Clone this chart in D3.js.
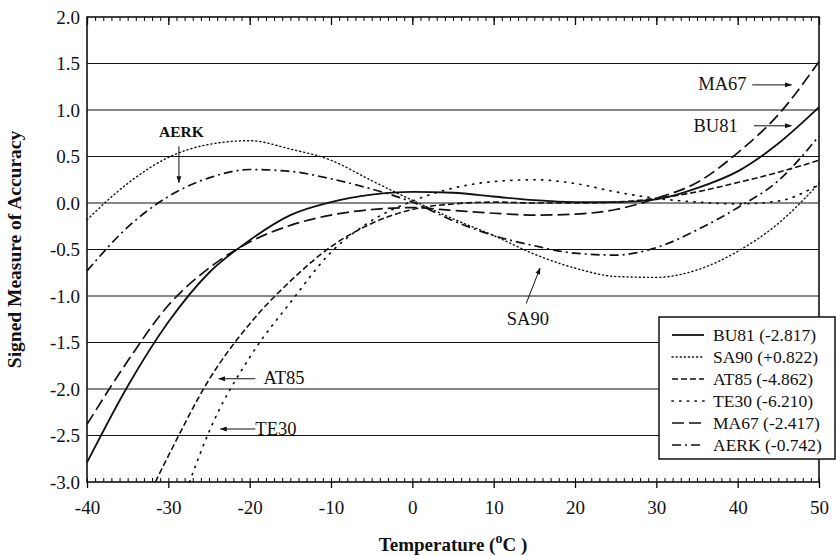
<!DOCTYPE html>
<html>
<head>
<meta charset="utf-8">
<script src="https://cdn.jsdelivr.net/npm/d3@7"></script>
<style>
  body { margin: 0; background: #fff; }
  #chart text { font-family: "Liberation Serif", "Times New Roman", serif; fill: #111; }
</style>
</head>
<body>
<div id="chart"></div>
<script>
// values (temperature in deg C, signed measure of accuracy)
const tempC = [-40, -35, -30, -25, -20, -15, -10, -5, 0, 5, 10, 15, 20, 25, 30, 35, 40, 45, 50];
const bu81 = [-2.79, -1.97, -1.28, -0.75, -0.40, -0.13, 0.01, 0.09, 0.12, 0.11, 0.07, 0.03, 0.01, 0.01, 0.04, 0.16, 0.34, 0.64, 1.03];
const sa90 = [-0.18, 0.21, 0.49, 0.63, 0.67, 0.58, 0.46, 0.24, 0.03, -0.17, -0.35, -0.55, -0.70, -0.79, -0.80, -0.72, -0.52, -0.22, 0.21];
const ma67 = [-2.38, -1.70, -1.10, -0.70, -0.42, -0.24, -0.13, -0.07, -0.05, -0.08, -0.11, -0.13, -0.12, -0.07, 0.05, 0.22, 0.54, 0.95, 1.52];
const aerk = [-0.73, -0.26, 0.07, 0.27, 0.36, 0.34, 0.26, 0.15, 0.01, -0.19, -0.35, -0.46, -0.54, -0.56, -0.48, -0.29, -0.05, 0.24, 0.72];
// these two leave the bottom of the frame, so they start later
const at85Temp = [-31.6, -30, -25, -20, -15, -10, -5, 0, 5, 10, 15, 20, 25, 30, 35, 40, 45, 50];
const at85 = [-3.0, -2.72, -1.90, -1.30, -0.84, -0.47, -0.22, -0.07, -0.01, 0.01, 0.0, 0.0, 0.01, 0.05, 0.12, 0.22, 0.33, 0.46];
const te30Temp = [-27.4, -25, -20, -15, -10, -5, 0, 5, 10, 15, 20, 25, 30, 35, 40, 45, 50];
const te30 = [-3.0, -2.46, -1.66, -1.07, -0.53, -0.19, 0.02, 0.16, 0.23, 0.25, 0.21, 0.12, 0.05, 0.01, -0.01, 0.02, 0.20];

const seriesNames = ['BU81', 'SA90', 'AT85', 'TE30', 'MA67', 'AERK'];
const legendLabels = ['BU81 (-2.817)', 'SA90 (+0.822)', 'AT85 (-4.862)', 'TE30 (-6.210)', 'MA67 (-2.417)', 'AERK (-0.742)'];
const xTicks = [-40, -30, -20, -10, 0, 10, 20, 30, 40, 50];
const yTicks = [-3.0, -2.5, -2.0, -1.5, -1.0, -0.5, 0.0, 0.5, 1.0, 1.5, 2.0];

// callouts: label, text anchor point, arrow from -> to (data units)
const callouts = [
  {text: 'AERK', at: [-28.4, 0.77], anchor: 'middle', bold: true, size: 15.5, from: [-28.7, 0.61], to: [-28.7, 0.22]},
  {text: 'MA67', at: [41.1, 1.28], anchor: 'end', from: [41.8, 1.27], to: [46.6, 1.27]},
  {text: 'BU81', at: [40.0, 0.83], anchor: 'end', from: [42.0, 0.83], to: [46.6, 0.83]},
  {text: 'SA90', at: [14.2, -1.24], anchor: 'middle', from: [14.0, -1.08], to: [15.7, -0.70]},
  {text: 'AT85', at: [-18.3, -1.88], anchor: 'start', from: [-19.3, -1.89], to: [-23.8, -1.89]},
  {text: 'TE30', at: [-19.3, -2.42], anchor: 'start', from: [-19.3, -2.43], to: [-23.6, -2.43]}
];

const width = 836;
const height = 556;
const margin = {top: 17, right: 17, bottom: 74, left: 87};
const serif = '"Liberation Serif", "Times New Roman", serif';

const styles = {
  BU81: {dash: null, w: 1.8},
  SA90: {dash: '1.1,3', w: 1.4, cap: 'round'},
  AT85: {dash: '6,3', w: 1.6},
  TE30: {dash: '1.2,6.5', w: 1.7, cap: 'round'},
  MA67: {dash: '12,5', w: 1.7},
  AERK: {dash: '9,4,2,4', w: 1.7}
};

const fmt = d => d3.format('.1f')(d).replace('\u2212', '-');

function main() {
  const svg = d3.select('#chart')
    .append('svg')
    .attr('width', width)
    .attr('height', height)
    .attr('viewBox', `0,0,${width},${height}`)
    .attr('font-family', serif);

  const x = d3.scaleLinear().domain([-40, 50]).range([margin.left, width - margin.right]);
  const y = d3.scaleLinear().domain([-3, 2]).range([height - margin.bottom, margin.top]);

  const series = [
    {name: 'BU81', t: tempC, v: bu81},
    {name: 'SA90', t: tempC, v: sa90},
    {name: 'AT85', t: at85Temp, v: at85},
    {name: 'TE30', t: te30Temp, v: te30},
    {name: 'MA67', t: tempC, v: ma67},
    {name: 'AERK', t: tempC, v: aerk}
  ];

  // horizontal grid
  svg.append('g')
    .selectAll('line')
    .data(yTicks.slice(1, -1))
    .join('line')
    .attr('x1', x(-40)).attr('x2', x(50))
    .attr('y1', d => y(d)).attr('y2', d => y(d))
    .attr('stroke', '#111').attr('stroke-width', 1.1);

  // bottom axis: major ticks out, minor ticks in
  const bottom = svg.append('g').attr('transform', `translate(0,${y(-3)})`);
  bottom.call(d3.axisBottom(x).tickValues(xTicks).tickSize(6).tickPadding(13)
      .tickFormat(d => String(d).replace('\u2212', '-')))
    .call(g => g.select('.domain').remove())
    .call(g => g.attr('font-family', serif))
    .call(g => g.selectAll('.tick line').attr('stroke-width', 1.3))
    .call(g => g.selectAll('.tick text').attr('font-size', 19).attr('fill', '#111'));
  bottom.append('g')
    .call(d3.axisTop(x).ticks(90).tickSize(4).tickFormat(''))
    .call(g => g.select('.domain').remove())
    .call(g => g.selectAll('.tick line').attr('stroke-width', 1));

  // top axis: all ticks point in
  const top = svg.append('g').attr('transform', `translate(0,${y(2)})`);
  top.call(d3.axisBottom(x).ticks(90).tickSize(4).tickFormat(''))
    .call(g => g.select('.domain').remove());
  top.append('g')
    .call(d3.axisBottom(x).tickValues(xTicks).tickSize(8).tickFormat(''))
    .call(g => g.select('.domain').remove())
    .call(g => g.selectAll('.tick line').attr('stroke-width', 1.3));

  svg.append('g')
    .attr('transform', `translate(${x(-40)},0)`)
    .call(d3.axisLeft(y).tickValues(yTicks).tickSize(0).tickPadding(7).tickFormat(fmt))
    .call(g => g.select('.domain').remove())
    .call(g => g.attr('font-family', serif))
    .call(g => g.selectAll('.tick text').attr('font-size', 19).attr('fill', '#111'));

  // frame
  svg.append('rect')
    .attr('x', x(-40)).attr('y', y(2))
    .attr('width', x(50) - x(-40)).attr('height', y(-3) - y(2))
    .attr('fill', 'none').attr('stroke', '#111').attr('stroke-width', 1.6);

  // curves
  const line = d3.line()
    .x(d => x(d[0]))
    .y(d => y(d[1]))
    .curve(d3.curveMonotoneX);

  svg.append('g')
    .selectAll('path')
    .data(series)
    .join('path')
    .attr('fill', 'none')
    .attr('stroke', '#111')
    .attr('stroke-width', d => styles[d.name].w)
    .attr('stroke-dasharray', d => styles[d.name].dash)
    .attr('stroke-linecap', d => styles[d.name].cap || 'butt')
    .attr('d', d => line(d.t.map((t, i) => [t, d.v[i]])));

  // callouts with arrows
  svg.append('defs').append('marker')
    .attr('id', 'head')
    .attr('viewBox', '0 0 10 10')
    .attr('refX', 9).attr('refY', 5)
    .attr('markerWidth', 7).attr('markerHeight', 7)
    .attr('markerUnits', 'userSpaceOnUse')
    .attr('orient', 'auto')
    .append('path')
    .attr('d', 'M0,1.5L10,5L0,8.5Z')
    .attr('fill', '#111');

  const notes = svg.append('g');
  notes.selectAll('line')
    .data(callouts)
    .join('line')
    .attr('x1', d => x(d.from[0])).attr('y1', d => y(d.from[1]))
    .attr('x2', d => x(d.to[0])).attr('y2', d => y(d.to[1]))
    .attr('stroke', '#111').attr('stroke-width', 1)
    .attr('marker-end', 'url(#head)');
  notes.selectAll('text')
    .data(callouts)
    .join('text')
    .attr('x', d => x(d.at[0])).attr('y', d => y(d.at[1]))
    .attr('dy', '0.35em')
    .attr('text-anchor', d => d.anchor)
    .attr('font-size', d => d.size || 18.5)
    .attr('font-weight', d => d.bold ? 'bold' : 'normal')
    .text(d => d.text);

  // legend box, overhanging the right edge of the frame
  const legend = svg.append('g').attr('transform', 'translate(659,317)');
  legend.append('rect')
    .attr('width', 176).attr('height', 142)
    .attr('fill', '#fff').attr('stroke', '#111').attr('stroke-width', 1.5);
  const rows = legend.selectAll('g')
    .data(seriesNames)
    .join('g')
    .attr('transform', (d, i) => `translate(0,${18 + i * 22})`);
  rows.append('line')
    .attr('x1', 13).attr('x2', 45)
    .attr('stroke', '#111')
    .attr('stroke-width', d => styles[d].w)
    .attr('stroke-dasharray', d => styles[d].dash)
    .attr('stroke-linecap', d => styles[d].cap || 'butt');
  rows.append('text')
    .attr('x', 54).attr('dy', '0.35em')
    .attr('font-size', 17.5)
    .text((d, i) => legendLabels[i]);

  // axis titles
  const xt = svg.append('text')
    .attr('x', (x(-40) + x(50)) / 2).attr('y', 551)
    .attr('text-anchor', 'middle')
    .attr('font-size', 19).attr('font-weight', 'bold');
  xt.append('tspan').text('Temperature (');
  xt.append('tspan').attr('dy', -8).attr('font-size', 14).text('o');
  xt.append('tspan').attr('dy', 8).text('C )');

  svg.append('text')
    .attr('transform', `translate(21,${(y(2) + y(-3)) / 2}) rotate(-90)`)
    .attr('text-anchor', 'middle')
    .attr('font-size', 19.5).attr('font-weight', 'bold')
    .text('Signed Measure of Accuracy');
}

main();
</script>
</body>
</html>
